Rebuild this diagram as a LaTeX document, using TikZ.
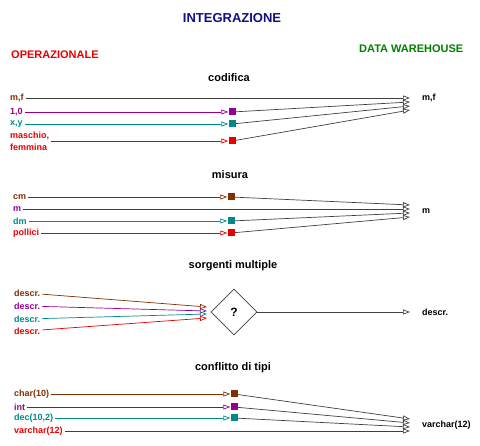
\documentclass[tikz,border=0pt]{standalone}
\usepackage{fontspec}
\setmainfont{Liberation Sans}
\usetikzlibrary{arrows.meta}
\usetikzlibrary{shapes.geometric}
\tikzset{>={Triangle[open,length=7pt,width=5pt]}}
\definecolor{mynavy}{RGB}{16,16,130}
\definecolor{myred}{RGB}{232,0,0}
\definecolor{mygreen}{RGB}{0,128,0}
\definecolor{mybrown}{RGB}{128,48,0}
\definecolor{mypurple}{RGB}{148,0,150}
\definecolor{myteal}{RGB}{0,138,138}
\colorlet{mydark}{black!75}
\tikzset{
  title/.style={font=\fontsize{13}{15}\selectfont\bfseries, inner sep=0pt},
  head/.style={font=\fontsize{11}{13}\selectfont\bfseries, inner sep=0pt},
  lbl/.style={font=\fontsize{9}{11}\selectfont\bfseries, inner sep=2pt, anchor=west},
  sq/.style={minimum size=7pt, inner sep=0pt},
  wline/.style={->, mydark, line width=0.7pt},
  src/.style={->, line width=0.7pt}
}

\begin{document}
\begin{tikzpicture}[x=1pt,y=-1pt]
  \useasboundingbox (0,0) rectangle (480,446);

    \pgfmathsetmacro\xt{410} % where the arrows meet
    \pgfmathsetmacro\xo{420} % data warehouse labels

    \node[title, mynavy] (I) at (232,18) {INTEGRAZIONE};
    \node[head, myred, anchor=west] (OP) at (11,55) {OPERAZIONALE};
    \node[head, mygreen, anchor=west] (DW) at (359,49) {DATA WAREHOUSE};

    % codifica
    \node[head] (C) at (229,78) {codifica};
    \node[lbl, mybrown] (C1) at (8,98) {m,f};
    \node[lbl, mypurple] (C2) at (8,112) {1,0};
    \node[lbl, myteal] (C3) at (8,124) {x,y};
    \node[lbl, myred, align=left, font=\fontsize{9}{12}\selectfont\bfseries] (C4) at (8,141) {maschio,\\femmina};
    \node[sq, fill=mypurple] (SC2) at (232,112) {};
    \node[sq, fill=myteal] (SC3) at (232,124) {};
    \node[sq, fill=myred] (SC4) at (232,141) {};
    \coordinate (TC1) at (\xt,98);
    \coordinate (TC2) at (\xt,102);
    \coordinate (TC3) at (\xt,106);
    \coordinate (TC4) at (\xt,110);
    \node[lbl] (OC) at (\xo,98) {m,f};
    \draw[wline] (C1) -- (TC1);
    \draw[src, mypurple] (C2) -- (SC2);
    \draw[src, myteal] (C3) -- (SC3);
    \draw[src, myred] (C4) -- (SC4);
    \draw[wline] (SC2) -- (TC2);
    \draw[wline] (SC3) -- (TC3);
    \draw[wline] (SC4) -- (TC4);

    % misura
    \node[head] (M) at (230,175) {misura};
    \node[lbl, mybrown] (M1) at (11,197) {cm};
    \node[lbl, mypurple] (M2) at (11,209) {m};
    \node[lbl, myteal] (M3) at (11,221) {dm};
    \node[lbl, myred] (M4) at (11,233) {pollici};
    \node[sq, fill=mybrown] (SM1) at (231,197) {};
    \node[sq, fill=myteal] (SM3) at (231,221) {};
    \node[sq, fill=myred] (SM4) at (231,233) {};
    \coordinate (TM1) at (\xt,205);
    \coordinate (TM2) at (\xt,209);
    \coordinate (TM3) at (\xt,213);
    \coordinate (TM4) at (\xt,217);
    \node[lbl] (OM) at (\xo,211) {m};
    \draw[src, mybrown] (M1) -- (SM1);
    \draw[src, myteal] (M3) -- (SM3);
    \draw[src, myred] (M4) -- (SM4);
    \draw[wline] (SM1) -- (TM1);
    \draw[wline] (M2) -- (TM2);
    \draw[wline] (SM3) -- (TM3);
    \draw[wline] (SM4) -- (TM4);

    % sorgenti multiple
    \node[head] (S) at (233,266) {sorgenti multiple};
    \node[lbl, mybrown] (S1) at (12,293) {descr.};
    \node[lbl, mypurple] (S2) at (12,306) {descr.};
    \node[lbl, myteal] (S3) at (12,319) {descr.};
    \node[lbl, myred] (S4) at (12,331) {descr.};
    \node[diamond, draw=mydark, line width=0.7pt, aspect=1, minimum size=46pt, inner sep=0pt,
          font=\fontsize{12}{14}\selectfont\bfseries] (D) at (234,312) {?};
    \coordinate (TS1) at (207,307);
    \coordinate (TS2) at (207,311);
    \coordinate (TS3) at (207,314);
    \coordinate (TS4) at (207,318);
    \coordinate (TS) at (\xt,312);
    \node[lbl] (OS) at (\xo,312) {descr.};
    \draw[src, mybrown] (S1) -- (TS1);
    \draw[src, mypurple] (S2) -- (TS2);
    \draw[src, myteal] (S3) -- (TS3);
    \draw[src, myred] (S4) -- (TS4);
    \draw[wline] (D) -- (TS);

    % conflitto di tipi
    \node[head] (K) at (233,368) {conflitto di tipi};
    \node[lbl, mybrown] (K1) at (12,394) {char(10)};
    \node[lbl, mypurple] (K2) at (12,407) {int};
    \node[lbl, myteal] (K3) at (12,418) {dec(10,2)};
    \node[lbl, myred] (K4) at (12,431) {varchar(12)};
    \node[sq, fill=mybrown] (SK1) at (234,394) {};
    \node[sq, fill=mypurple] (SK2) at (234,407) {};
    \node[sq, fill=myteal] (SK3) at (234,418) {};
    \coordinate (TK1) at (\xt,419);
    \coordinate (TK2) at (\xt,423);
    \coordinate (TK3) at (\xt,427);
    \coordinate (TK4) at (\xt,431);
    \node[lbl] (OK) at (\xo,425) {varchar(12)};
    \draw[src, mybrown] (K1) -- (SK1);
    \draw[src, mypurple] (K2) -- (SK2);
    \draw[src, myteal] (K3) -- (SK3);
    \draw[wline] (SK1) -- (TK1);
    \draw[wline] (SK2) -- (TK2);
    \draw[wline] (SK3) -- (TK3);
    \draw[wline] (K4) -- (TK4);
\end{tikzpicture}
\end{document}
